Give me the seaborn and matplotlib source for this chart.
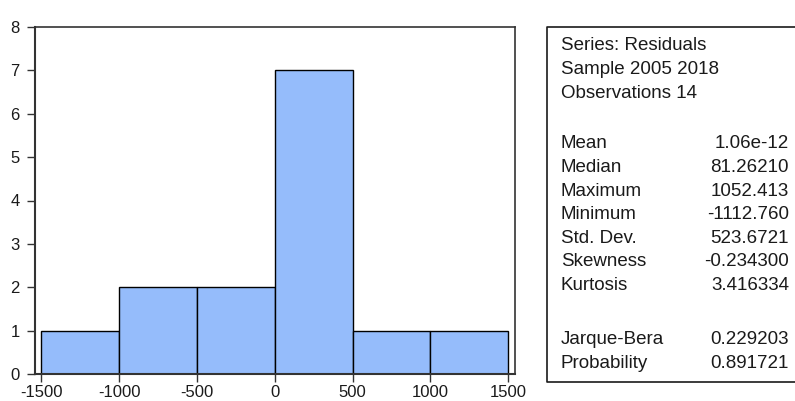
import matplotlib
matplotlib.use("Agg")
import matplotlib.pyplot as plt
from matplotlib.lines import Line2D
import seaborn as sns
import numpy as np

# Histogram of residuals: bin edges and counts per bin
bin_edges = [-1500, -1000, -500, 0, 500, 1000, 1500]
bin_counts = [1, 2, 2, 7, 1, 1]
x_ticks = [-1500, -1000, -500, 0, 500, 1000, 1500]
y_ticks = [0, 1, 2, 3, 4, 5, 6, 7, 8]

# Descriptive statistics panel
header_lines = ["Series: Residuals", "Sample 2005 2018", "Observations 14"]
stat_names = ["Mean", "Median", "Maximum", "Minimum", "Std. Dev.", "Skewness", "Kurtosis"]
stat_values = ["1.06e-12", "81.26210", "1052.413", "-1112.760", "523.6721", "-0.234300", "3.416334"]
test_names = ["Jarque-Bera", "Probability"]
test_values = ["0.229203", "0.891721"]

sns.set_theme(style="white")
plt.rcParams["font.family"] = ["Liberation Sans", "DejaVu Sans"]

W, H = 795, 401
fig = plt.figure(figsize=(W / 100, H / 100), dpi=100)

def fx(px):
    return px / W

def fy(py):
    return 1 - py / H

ax = fig.add_axes([fx(35), fy(374), fx(515) - fx(35), fy(27) - fy(374)])

centers = [(a + b) / 2 for a, b in zip(bin_edges[:-1], bin_edges[1:])]
sns.histplot(x=centers, weights=bin_counts, bins=bin_edges, ax=ax,
             color="#95BCFB", alpha=1.0, edgecolor="black", linewidth=1.0)

ax.set_xlim(-1541, 1543)
ax.set_ylim(0, 8)
ax.set_xticks(x_ticks)
ax.set_yticks(y_ticks)
ax.set_xticklabels([str(v) for v in x_ticks])
ax.set_yticklabels([str(v) for v in y_ticks])
ax.set_xlabel("")
ax.set_ylabel("")
ax.tick_params(axis="both", which="major", direction="out", length=6,
               width=1.0, color="#333333", labelsize=12, labelcolor="#1a1a1a",
               bottom=True, left=True)
ax.tick_params(axis="x", pad=2)
ax.tick_params(axis="y", pad=5)
for side, sp in ax.spines.items():
    sp.set_visible(True)
    sp.set_color("#333333")
    sp.set_linewidth(1.5 if side in ("left", "bottom") else 1.2)

# Statistics box: top, left and bottom edges, open past the right side
x0, x1, y0, y1 = fx(547), 1.0, fy(382), fy(27)
fig.add_artist(Line2D([x1, x0, x0, x1], [y1, y1, y0, y0],
                      transform=fig.transFigure, color="#1a1a1a", linewidth=1.2))

fs = 13.5
lx, rx = fx(561), fx(789)
for i, t in enumerate(header_lines):
    fig.text(lx, fy(45 + i * 24.5), t, ha="left", va="center", fontsize=fs, color="#1a1a1a")
for i, (n, v) in enumerate(zip(stat_names, stat_values)):
    y = fy(144 + i * 23.6)
    fig.text(lx, y, n, ha="left", va="center", fontsize=fs, color="#1a1a1a")
    fig.text(rx, y, v, ha="right", va="center", fontsize=fs, color="#1a1a1a")
for i, (n, v) in enumerate(zip(test_names, test_values)):
    y = fy(339 + i * 24)
    fig.text(lx, y, n, ha="left", va="center", fontsize=fs, color="#1a1a1a")
    fig.text(rx, y, v, ha="right", va="center", fontsize=fs, color="#1a1a1a")

fig.savefig("out.png", dpi=100)
